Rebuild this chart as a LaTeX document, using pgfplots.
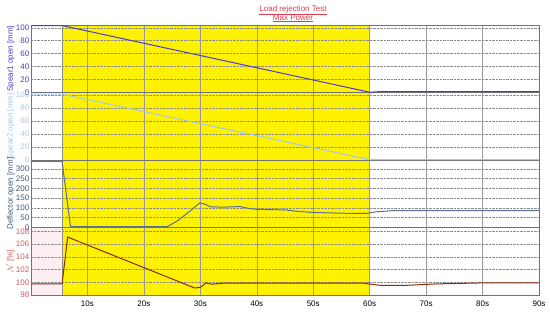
\documentclass[border=0pt]{standalone}
\usepackage{fontspec}
\setmainfont{Liberation Sans}
\usepackage{pgfplots}
\pgfplotsset{compat=1.18}
\usepgfplotslibrary{groupplots}
\usetikzlibrary{calc}
\definecolor{SpearOne}{HTML}{4A3CC8}
\definecolor{SpearTwo}{HTML}{A6C6EE}
\definecolor{Deflect}{HTML}{5A7090}
\definecolor{DeflectTxt}{HTML}{3E5A7A}
\definecolor{SpeedLine}{HTML}{8B2A10}
\definecolor{SpeedTxt}{HTML}{D05A5A}
\definecolor{TitleRed}{HTML}{E03C50}
\definecolor{PinkBg}{HTML}{FDEEF2}

\begin{document}
\begin{tikzpicture}[font=\fontsize{8}{9.6}\selectfont]
\begin{groupplot}[
  group style={group size=1 by 4, vertical sep=0pt},
  width=508pt, height=67.5pt, scale only axis,
  xmin=0, xmax=90, xtick={10,20,...,90}, xticklabels={},
  grid=major,
  x grid style={black!40, line width=0.5pt},
  y grid style={black!45, densely dotted, line width=0.5pt},
  major tick length=0pt,
  axis line style={black!55, line width=0.8pt},
  set layers,
  tick label style={font=\fontsize{8}{9.6}\selectfont},
  /pgf/number format/assume math mode=true,
  ylabel style={at={(axis description cs:-0.032,0.5)}, anchor=south,
    inner sep=0pt, font=\fontsize{8}{9.6}\selectfont},
  yticklabel style={inner sep=1.5pt},
  xticklabel style={yshift=-2pt},
]
% Spear 1
\nextgroupplot[ymin=0, ymax=104.3, ytick={0,20,...,100},
  yticklabel style={text=SpearOne}, ylabel={Spear1 open [mm]}, ylabel style={text=SpearOne}]
\addplot[fill=yellow, draw=black!45, line width=0.6pt, on layer=axis background]
  coordinates {(5.5,0) (5.5,104.3) (60,104.3) (60,0)};
\addplot[SpearOne, line width=1pt] coordinates {
  (0,103.5) (5.5,103.5) (60,0.4) (62,1.5) (75,1.5) (78,1.2) (90,1.2)};

% Spear 2
\nextgroupplot[ymin=0, ymax=103.5, ytick={0,20,...,100},
  yticklabel style={text=SpearTwo}, ylabel={Spear2 open [mm]}, ylabel style={text=SpearTwo}]
\addplot[fill=yellow, draw=black!45, line width=0.6pt, on layer=axis background]
  coordinates {(5.5,0) (5.5,103.5) (60,103.5) (60,0)};
\addplot[SpearTwo, line width=1pt] coordinates {
  (0,101) (5.5,101) (60,0.4) (90,0.6)};

% Deflector
\nextgroupplot[ymin=0, ymax=345, ytick={0,50,...,300},
  yticklabel style={text=DeflectTxt}, ylabel={Deflector open [mm]}, ylabel style={text=DeflectTxt}]
\addplot[fill=yellow, draw=black!45, line width=0.6pt, on layer=axis background]
  coordinates {(5.5,0) (5.5,345) (60,345) (60,0)};
\addplot[Deflect, line width=1pt] coordinates {
  (0,338) (5.5,338) (7.0,5) (24.2,5) (26,35) (28,80) (29.8,124) (30.6,122)
  (31.8,106) (34,104) (37,107) (38.5,98) (40,93) (45,90) (47,83) (50,77)
  (55,73) (59.5,72) (61,80) (64,86) (70,86) (90,86)};

% Speed
\nextgroupplot[ymin=98, ymax=108.6, ytick={98,100,...,108},
  yticklabel style={text=SpeedTxt}, ylabel={$\mathcal{N}$ [\%]}, ylabel style={text=SpeedTxt},
  xticklabels={10s,20s,30s,40s,50s,60s,70s,80s,90s}]
\addplot[fill=PinkBg, draw=none, on layer=axis background]
  coordinates {(0,98) (0,108.6) (5.5,108.6) (5.5,98)};
\addplot[fill=yellow, draw=black!45, line width=0.6pt, on layer=axis background]
  coordinates {(5.5,98) (5.5,108.6) (60,108.6) (60,98)};
\addplot[SpeedLine, line width=1pt] coordinates {
  (0,99.75) (5.5,99.75) (6.5,107.1) (29,99.1) (30,99.2) (31,99.9) (32,99.7)
  (34,99.85) (40,99.85) (50,99.85) (59,99.85) (62,99.5) (66,99.5) (72,99.75)
  (80,99.9) (90,99.9)};
\end{groupplot}

\node[text=TitleRed, anchor=base] at ($(group c1r1.north west)+(262pt,14pt)$)
  {\underline{Load rejection Test}};
\node[text=TitleRed, anchor=base] at ($(group c1r1.north west)+(262pt,5pt)$)
  {\underline{Max Power}};

\pgfresetboundingbox
\path[use as bounding box] ($(group c1r1.north west)+(-31pt,25pt)$)
  rectangle ($(group c1r4.south east)+(11pt,-16pt)$);
\end{tikzpicture}
\end{document}
